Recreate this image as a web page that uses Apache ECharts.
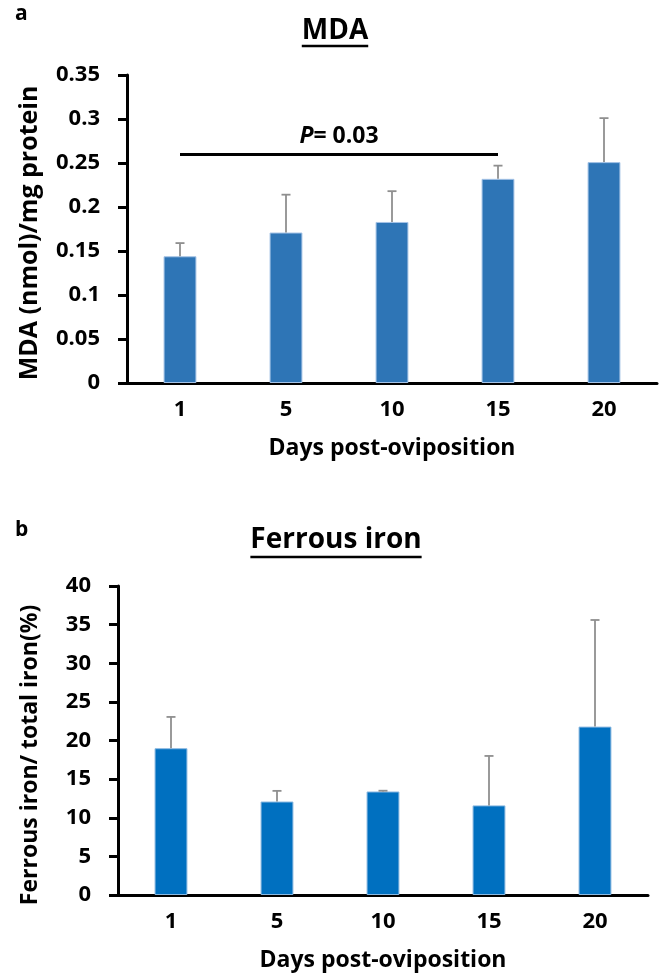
<!DOCTYPE html>
<html><head><meta charset="utf-8">
<script src="https://cdn.jsdelivr.net/npm/echarts@6/dist/echarts.min.js"></script>
<style>html,body{margin:0;padding:0;background:#fff}#c{width:664px;height:975px}</style>
</head><body><div id="c"></div>
<script>
// ---- data ----
const categories = ['1', '5', '10', '15', '20'];
const mdaValues = [0.144, 0.171, 0.183, 0.232, 0.251];
const mdaErrors = [0.015, 0.043, 0.035, 0.015, 0.050];
const ironValues = [19.0, 12.1, 13.4, 11.6, 21.8];
const ironErrors = [4.05, 1.38, 0.1, 6.4, 13.8];
const mdaAxis = { min: 0, max: 0.35, interval: 0.05 };
const ironAxis = { min: 0, max: 40, interval: 5 };
const pFrom = '1', pTo = '15', pLevel = 0.26, pValue = '0.03';
const titleTop = 'MDA', titleBottom = 'Ferrous iron';
const yNameTop = 'MDA (nmol)/mg protein', yNameBottom = 'Ferrous iron/ total iron(%)';
const xName = 'Days post-oviposition';

const FF = 'Open Sans';
function textW(t, f) { const c = document.createElement('canvas').getContext('2d'); c.font = f; return c.measureText(t).width; }

function errRender(params, api) {
  const i = api.value(0), v = api.value(1), e = api.value(2);
  const p0 = api.coord([i, v]), p1 = api.coord([i, v + e]);
  const hw = 4.5;
  const st = { stroke: '#8f8f8f', lineWidth: 1.8 };
  return { type: 'group', children: [
    { type: 'line', shape: { x1: p0[0], y1: p0[1], x2: p1[0], y2: p1[1] }, style: st },
    { type: 'line', shape: { x1: p1[0] - hw, y1: p1[1], x2: p1[0] + hw, y2: p1[1] }, style: st }
  ]};
}

const axisText = { color: '#000', fontFamily: FF, fontWeight: 'bold', fontSize: 22 };
function xAxisCfg(gi) {
  return {
    type: 'category', gridIndex: gi, data: categories,
    axisLine: { lineStyle: { color: '#000', width: 3 } },
    axisTick: { show: false },
    axisLabel: Object.assign({ margin: 16 }, axisText),
    name: xName, nameLocation: 'middle', nameGap: 54,
    nameTextStyle: { color: '#000', fontFamily: FF, fontWeight: 'bold', fontSize: 23 }
  };
}
function yAxisCfg(gi, ax) {
  return {
    type: 'value', gridIndex: gi, min: ax.min, max: ax.max, interval: ax.interval,
    axisLine: { show: true, lineStyle: { color: '#000', width: 3 } },
    axisTick: { show: true, length: 9, lineStyle: { color: '#000', width: 3 } },
    axisLabel: Object.assign({ margin: 27 }, axisText),
    splitLine: { show: false }
  };
}

const titleFont = 'bold 28px "' + FF + '"';
const wTop = textW(titleTop, titleFont), wBot = textW(titleBottom, titleFont);

const chart = echarts.init(document.getElementById('c'), null, { renderer: 'canvas' });
chart.setOption({
  animation: false,
  backgroundColor: '#fff',
  grid: [
    { left: 127, right: 7, top: 75, height: 308, containLabel: false, outerBoundsMode: 'none' },
    { left: 118, right: 16, top: 586, height: 309, containLabel: false, outerBoundsMode: 'none' }
  ],
  xAxis: [xAxisCfg(0), xAxisCfg(1)],
  yAxis: [yAxisCfg(0, mdaAxis), yAxisCfg(1, ironAxis)],
  series: [
    {
      type: 'bar', xAxisIndex: 0, yAxisIndex: 0, data: mdaValues, barWidth: '31%',
      itemStyle: { color: '#2E75B6', borderColor: '#a5c3e6', borderWidth: 1 },
      markLine: {
        silent: true, symbol: ['none', 'none'],
        lineStyle: { color: '#000', width: 3, type: 'solid' },
        label: {
          show: true, position: 'middle', distance: 6,
          formatter: '{i|P}= ' + pValue,
          color: '#000', fontFamily: FF, fontWeight: 'bold', fontSize: 23,
          rich: { i: { fontStyle: 'italic', fontWeight: 'bold', fontFamily: FF, fontSize: 23, color: '#000' } }
        },
        data: [[{ coord: [pFrom, pLevel] }, { coord: [pTo, pLevel] }]]
      }
    },
    {
      type: 'custom', xAxisIndex: 0, yAxisIndex: 0, renderItem: errRender, z: 5,
      data: categories.map((c, i) => [i, mdaValues[i], mdaErrors[i]]), encode: { x: 0, y: 1 }
    },
    {
      type: 'bar', xAxisIndex: 1, yAxisIndex: 1, data: ironValues, barWidth: '31%',
      itemStyle: { color: '#0070C0', borderColor: '#8ab8e0', borderWidth: 1 }
    },
    {
      type: 'custom', xAxisIndex: 1, yAxisIndex: 1, renderItem: errRender, z: 5,
      data: categories.map((c, i) => [i, ironValues[i], ironErrors[i]]), encode: { x: 0, y: 1 }
    }
  ],
  graphic: [
    { type: 'text', left: 15, top: 4, style: { text: 'a', font: 'bold 21px "' + FF + '"', fill: '#000' } },
    { type: 'text', left: 15, top: 520, style: { text: 'b', font: 'bold 21px "' + FF + '"', fill: '#000' } },
    { type: 'text', x: 335, y: 31, style: { text: titleTop, font: titleFont, fill: '#000', align: 'center', verticalAlign: 'middle' } },
    { type: 'line', shape: { x1: 335 - wTop / 2, y1: 46, x2: 335 + wTop / 2, y2: 46 }, style: { stroke: '#000', lineWidth: 2.5 } },
    { type: 'text', x: 336, y: 540, style: { text: titleBottom, font: titleFont, fill: '#000', align: 'center', verticalAlign: 'middle' } },
    { type: 'line', shape: { x1: 336 - wBot / 2, y1: 557, x2: 336 + wBot / 2, y2: 557 }, style: { stroke: '#000', lineWidth: 2.5 } },
    { type: 'text', x: 30, y: 233, rotation: Math.PI / 2, style: { text: yNameTop, font: 'bold 25px "' + FF + '"', fill: '#000', align: 'center', verticalAlign: 'middle' } },
    { type: 'text', x: 30, y: 755, rotation: Math.PI / 2, style: { text: yNameBottom, font: 'bold 23px "' + FF + '"', fill: '#000', align: 'center', verticalAlign: 'middle' } }
  ]
});
</script>
</body></html>
